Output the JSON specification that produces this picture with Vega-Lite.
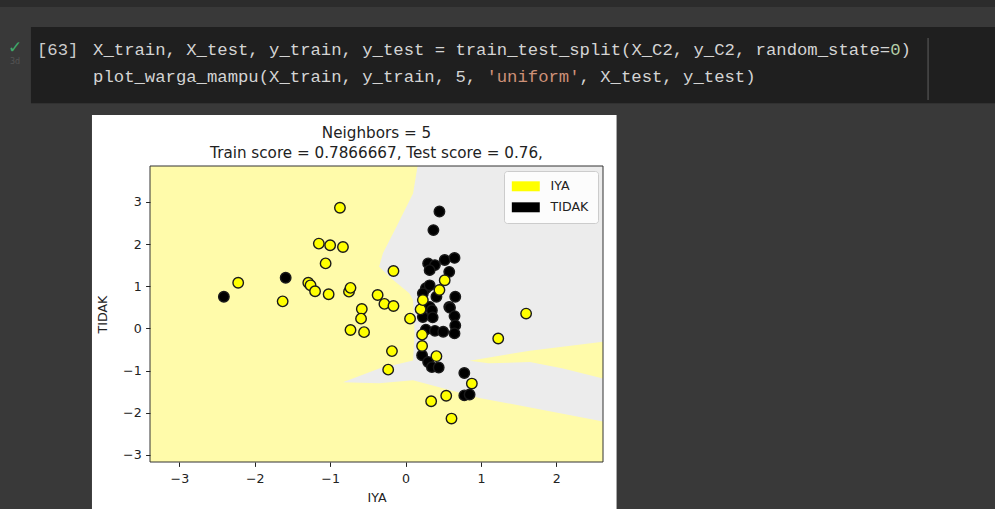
{
  "$schema": "https://vega.github.io/schema/vega-lite/v6.json",
  "width": 453,
  "height": 296,
  "autosize": {"type": "none"},
  "padding": {"left": 150, "top": 166, "right": 392, "bottom": 47},
  "background": "#393939",
  "data": {"values": [{}]},
  "config": {
    "view": {"stroke": null, "fill": null},
    "axis": {
      "domain": false, "grid": false, "ticks": true, "tickColor": "#222222", "tickSize": 4.4, "tickWidth": 1,
      "labelFont": "DejaVu Sans", "labelFontSize": 12.6, "labelColor": "#222222",
      "titleFont": "DejaVu Sans", "titleFontSize": 12.6, "titleFontWeight": "normal", "titleColor": "#222222",
      "format": "d"
    },
    "axisX": {"labelPadding": 6, "titlePadding": 6},
    "axisY": {"labelPadding": 4.4, "titlePadding": 13},
    "legend": {
      "orient": "top-right", "offset": 5, "fillColor": "rgba(255,255,255,0.85)", "strokeColor": "#cccccc",
      "cornerRadius": 3, "padding": 9, "symbolType": "M-2.33,-0.83H2.33V0.83H-2.33Z", "symbolSize": 144,
      "symbolStrokeWidth": 0, "symbolOpacity": 1, "symbolOffset": 6.5, "labelOffset": 18.5,
      "labelFont": "DejaVu Sans", "labelFontSize": 12.6, "labelColor": "#222222", "rowPadding": 8, "zindex": 2
    }
  },
  "datasets": {
    "pts": [
      {"x": -2.41, "y": 0.75, "label": "TIDAK"},
      {"x": -1.59, "y": 1.2, "label": "TIDAK"},
      {"x": 0.45, "y": 2.77, "label": "TIDAK"},
      {"x": 0.37, "y": 2.33, "label": "TIDAK"},
      {"x": 0.3, "y": 1.54, "label": "TIDAK"},
      {"x": 0.39, "y": 1.5, "label": "TIDAK"},
      {"x": 0.32, "y": 1.38, "label": "TIDAK"},
      {"x": 0.52, "y": 1.62, "label": "TIDAK"},
      {"x": 0.65, "y": 1.67, "label": "TIDAK"},
      {"x": 0.58, "y": 1.34, "label": "TIDAK"},
      {"x": 0.27, "y": 0.95, "label": "TIDAK"},
      {"x": 0.32, "y": 1.02, "label": "TIDAK"},
      {"x": 0.23, "y": 0.83, "label": "TIDAK"},
      {"x": 0.41, "y": 0.75, "label": "TIDAK"},
      {"x": 0.66, "y": 0.75, "label": "TIDAK"},
      {"x": 0.58, "y": 0.51, "label": "TIDAK"},
      {"x": 0.32, "y": 0.51, "label": "TIDAK"},
      {"x": 0.35, "y": 0.43, "label": "TIDAK"},
      {"x": 0.23, "y": 0.27, "label": "TIDAK"},
      {"x": 0.36, "y": 0.26, "label": "TIDAK"},
      {"x": 0.59, "y": 0.49, "label": "TIDAK"},
      {"x": 0.65, "y": 0.29, "label": "TIDAK"},
      {"x": 0.66, "y": 0.07, "label": "TIDAK"},
      {"x": 0.65, "y": -0.12, "label": "TIDAK"},
      {"x": 0.27, "y": -0.03, "label": "TIDAK"},
      {"x": 0.39, "y": -0.06, "label": "TIDAK"},
      {"x": 0.5, "y": -0.08, "label": "TIDAK"},
      {"x": 0.22, "y": -0.64, "label": "TIDAK"},
      {"x": 0.3, "y": -0.8, "label": "TIDAK"},
      {"x": 0.35, "y": -0.92, "label": "TIDAK"},
      {"x": 0.44, "y": -0.93, "label": "TIDAK"},
      {"x": 0.78, "y": -1.06, "label": "TIDAK"},
      {"x": 0.78, "y": -1.59, "label": "TIDAK"},
      {"x": 0.85, "y": -1.57, "label": "TIDAK"},
      {"x": -2.22, "y": 1.08, "label": "IYA"},
      {"x": -1.63, "y": 0.64, "label": "IYA"},
      {"x": -1.29, "y": 1.08, "label": "IYA"},
      {"x": -1.26, "y": 1.02, "label": "IYA"},
      {"x": -1.2, "y": 0.88, "label": "IYA"},
      {"x": -1.15, "y": 2.01, "label": "IYA"},
      {"x": -1.0, "y": 1.97, "label": "IYA"},
      {"x": -1.06, "y": 1.54, "label": "IYA"},
      {"x": -1.02, "y": 0.81, "label": "IYA"},
      {"x": -0.87, "y": 2.86, "label": "IYA"},
      {"x": -0.83, "y": 1.93, "label": "IYA"},
      {"x": -0.75, "y": 0.87, "label": "IYA"},
      {"x": -0.73, "y": 0.96, "label": "IYA"},
      {"x": -0.37, "y": 0.79, "label": "IYA"},
      {"x": -0.28, "y": 0.58, "label": "IYA"},
      {"x": -0.16, "y": 0.53, "label": "IYA"},
      {"x": -0.16, "y": 1.36, "label": "IYA"},
      {"x": -0.58, "y": 0.46, "label": "IYA"},
      {"x": -0.59, "y": 0.23, "label": "IYA"},
      {"x": -0.73, "y": -0.04, "label": "IYA"},
      {"x": -0.55, "y": -0.09, "label": "IYA"},
      {"x": 0.06, "y": 0.23, "label": "IYA"},
      {"x": 0.2, "y": 0.45, "label": "IYA"},
      {"x": 0.22, "y": -0.15, "label": "IYA"},
      {"x": 0.22, "y": -0.42, "label": "IYA"},
      {"x": -0.18, "y": -0.54, "label": "IYA"},
      {"x": -0.23, "y": -0.98, "label": "IYA"},
      {"x": 0.41, "y": -0.66, "label": "IYA"},
      {"x": 0.88, "y": -1.31, "label": "IYA"},
      {"x": 0.54, "y": -1.6, "label": "IYA"},
      {"x": 0.34, "y": -1.73, "label": "IYA"},
      {"x": 0.61, "y": -2.14, "label": "IYA"},
      {"x": 1.23, "y": -0.24, "label": "IYA"},
      {"x": 1.6, "y": 0.35, "label": "IYA"},
      {"x": 0.52, "y": 1.14, "label": "IYA"},
      {"x": 0.45, "y": 0.91, "label": "IYA"},
      {"x": 0.23, "y": 0.67, "label": "IYA"}
    ],
    "gray": [
      {"i": 0, "x": 0.16, "y": 3.85},
      {"i": 1, "x": 2.62, "y": 3.85},
      {"i": 2, "x": 2.62, "y": -2.21},
      {"i": 3, "x": 0.98, "y": -1.65},
      {"i": 4, "x": 0.1, "y": -1.23},
      {"i": 5, "x": -0.35, "y": -1.3},
      {"i": 6, "x": -0.83, "y": -1.28},
      {"i": 7, "x": -0.35, "y": -0.95},
      {"i": 8, "x": 0.1, "y": -0.76},
      {"i": 9, "x": 0.12, "y": -0.12},
      {"i": 10, "x": 0.1, "y": 0.67},
      {"i": 11, "x": 0.05, "y": 0.83},
      {"i": 12, "x": -0.2, "y": 1.2},
      {"i": 13, "x": -0.35, "y": 1.46},
      {"i": 14, "x": -0.3, "y": 1.78},
      {"i": 15, "x": -0.12, "y": 2.41},
      {"i": 16, "x": 0.1, "y": 3.2}
    ],
    "finger": [
      {"i": 0, "x": 0.85, "y": -0.77},
      {"i": 1, "x": 1.65, "y": -0.53},
      {"i": 2, "x": 2.62, "y": -0.32},
      {"i": 3, "x": 2.62, "y": -1.19},
      {"i": 4, "x": 2.09, "y": -0.95},
      {"i": 5, "x": 1.65, "y": -0.8},
      {"i": 6, "x": 1.1, "y": -0.83}
    ]
  },
  "layer": [
    {
      "data": {"name": "pts"},
      "mark": {"type": "circle", "size": 110, "stroke": "#1a1a1a", "strokeWidth": 1.4, "opacity": 1},
      "encoding": {
        "x": {"field": "x", "type": "quantitative", "scale": {"domain": [-3.39, 2.62], "nice": false, "zero": false}, "axis": {"title": "IYA", "values": [-3, -2, -1, 0, 1, 2], "zindex": 3}},
        "y": {"field": "y", "type": "quantitative", "scale": {"domain": [-3.17, 3.85], "nice": false, "zero": false}, "axis": {"title": "TIDAK", "values": [-3, -2, -1, 0, 1, 2, 3], "zindex": 3}},
        "color": {"field": "label", "type": "nominal", "scale": {"domain": ["IYA", "TIDAK"], "range": ["#ffff00", "#000000"]}, "legend": {"title": null}},
        "opacity": {"value": 0}
      }
    },
    {
      "mark": {"type": "rect", "color": "#2c2c2c"},
      "encoding": {"x": {"datum": -6}, "x2": {"datum": 8.5}, "y": {"datum": 7.9}, "y2": {"datum": 7.62}}
    },
    {
      "mark": {"type": "rect", "color": "#1f1f1f"},
      "encoding": {"x": {"datum": -4.969}, "x2": {"datum": 8.5}, "y": {"datum": 7.146}, "y2": {"datum": 5.341}}
    },
    {
      "mark": {"type": "rule", "color": "#4a4a4a", "strokeWidth": 1.5},
      "encoding": {"x": {"datum": 6.933}, "y": {"datum": 6.885}, "y2": {"datum": 5.415}}
    },
    {
      "mark": {"type": "text", "text": "✓", "font": "DejaVu Sans", "fontSize": 17, "color": "#3fa96a", "align": "center", "baseline": "middle"},
      "encoding": {"x": {"datum": -5.181}, "y": {"datum": 6.648}}
    },
    {
      "mark": {"type": "text", "text": "3d", "font": "DejaVu Sans", "fontSize": 8, "color": "#555555", "align": "center", "baseline": "middle"},
      "encoding": {"x": {"datum": -5.181}, "y": {"datum": 6.316}}
    },
    {
      "mark": {"type": "text", "text": "[63]", "font": "Liberation Mono", "fontSize": 17.25, "color": "#cccccc", "align": "left", "baseline": "middle"},
      "encoding": {"x": {"datum": -4.889}, "y": {"datum": 6.6}}
    },
    {
      "mark": {"type": "text", "text": "X_train, X_test, y_train, y_test = train_test_split(X_C2, y_C2, random_state=", "font": "Liberation Mono", "fontSize": 17.25, "color": "#d4d4d4", "align": "left", "baseline": "middle"},
      "encoding": {"x": {"datum": -4.145}, "y": {"datum": 6.6}}
    },
    {
      "mark": {"type": "text", "text": "0", "font": "Liberation Mono", "fontSize": 17.25, "color": "#b5cea8", "align": "left", "baseline": "middle"},
      "encoding": {"x": {"datum": 6.430}, "y": {"datum": 6.6}}
    },
    {
      "mark": {"type": "text", "text": ")", "font": "Liberation Mono", "fontSize": 17.25, "color": "#d4d4d4", "align": "left", "baseline": "middle"},
      "encoding": {"x": {"datum": 6.568}, "y": {"datum": 6.6}}
    },
    {
      "mark": {"type": "text", "text": "plot_warga_mampu(X_train, y_train, 5,", "font": "Liberation Mono", "fontSize": 17.25, "color": "#d4d4d4", "align": "left", "baseline": "middle"},
      "encoding": {"x": {"datum": -4.145}, "y": {"datum": 5.96}}
    },
    {
      "mark": {"type": "text", "text": "'uniform'", "font": "Liberation Mono", "fontSize": 17.25, "color": "#ce9178", "align": "left", "baseline": "middle"},
      "encoding": {"x": {"datum": 1.073}, "y": {"datum": 5.96}}
    },
    {
      "mark": {"type": "text", "text": ", X_test, y_test)", "font": "Liberation Mono", "fontSize": 17.25, "color": "#d4d4d4", "align": "left", "baseline": "middle"},
      "encoding": {"x": {"datum": 2.309}, "y": {"datum": 5.96}}
    },
    {
      "mark": {"type": "rect", "color": "#ffffff"},
      "encoding": {"x": {"datum": -4.16}, "x2": {"datum": 2.8}, "y": {"datum": 5.06}, "y2": {"datum": -4.5}}
    },
    {
      "mark": {"type": "rect", "color": "#fffbaa"},
      "encoding": {"x": {"datum": -3.39}, "x2": {"datum": 2.62}, "y": {"datum": 3.85}, "y2": {"datum": -3.17}}
    },
    {
      "data": {"name": "gray"},
      "mark": {"type": "line", "filled": true, "color": "#ececec", "strokeWidth": 0},
      "encoding": {
        "x": {"field": "x", "type": "quantitative"},
        "y": {"field": "y", "type": "quantitative"},
        "order": {"field": "i", "type": "quantitative"}
      }
    },
    {
      "data": {"name": "finger"},
      "mark": {"type": "line", "filled": true, "color": "#fffbaa", "strokeWidth": 0},
      "encoding": {
        "x": {"field": "x", "type": "quantitative"},
        "y": {"field": "y", "type": "quantitative"},
        "order": {"field": "i", "type": "quantitative"}
      }
    },
    {
      "data": {"name": "pts"},
      "mark": {"type": "circle", "size": 110, "stroke": "#1a1a1a", "strokeWidth": 1.4, "opacity": 1},
      "encoding": {
        "x": {"field": "x", "type": "quantitative"},
        "y": {"field": "y", "type": "quantitative"},
        "color": {"field": "label", "type": "nominal"}
      }
    },
    {
      "mark": {"type": "rect", "fillOpacity": 0, "stroke": "#333333", "strokeWidth": 1},
      "encoding": {"x": {"datum": -3.39}, "x2": {"datum": 2.62}, "y": {"datum": 3.85}, "y2": {"datum": -3.17}}
    },
    {
      "mark": {"type": "text", "text": "Neighbors = 5", "font": "DejaVu Sans", "fontSize": 15.2, "color": "#222222", "align": "center", "baseline": "alphabetic"},
      "encoding": {"x": {"datum": -0.385}, "y": {"datum": 4.521}}
    },
    {
      "mark": {"type": "text", "text": "Train score = 0.7866667, Test score = 0.76,", "font": "DejaVu Sans", "fontSize": 15.2, "color": "#222222", "align": "center", "baseline": "alphabetic"},
      "encoding": {"x": {"datum": -0.385}, "y": {"datum": 4.046}}
    }
  ]
}
